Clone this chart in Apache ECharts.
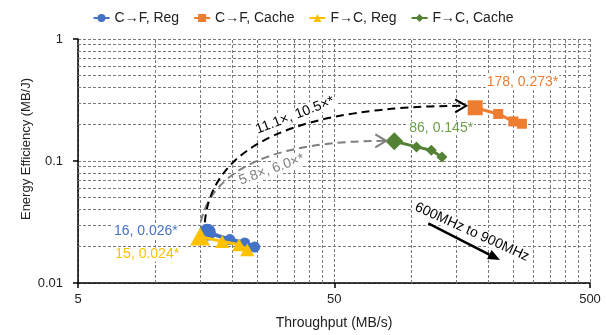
<!DOCTYPE html>
<html><head><meta charset="utf-8">
<script src="https://cdn.jsdelivr.net/npm/echarts@6/dist/echarts.min.js"></script>
<style>html,body{margin:0;padding:0;background:#fff}#c{width:606px;height:335px}</style>
</head><body><div id="c"></div>
<script>
// ---- data ----
const seriesNames = ['C\u2192F, Reg', 'C\u2192F, Cache', 'F\u2192C, Reg', 'F\u2192C, Cache'];
const cfRegX = [16, 19.6, 22.4, 24.5];
const cfRegY = [0.026, 0.0227, 0.0213, 0.0197];
const cfCacheX = [178, 219, 251, 271];
const cfCacheY = [0.273, 0.243, 0.211, 0.202];
const fcRegX = [15, 18.3, 21.3, 22.9];
const fcRegY = [0.024, 0.0219, 0.0206, 0.0187];
const fcCacheX = [86, 105, 120, 132];
const fcCacheY = [0.145, 0.1305, 0.1226, 0.108];
const pointLabels = ['16, 0.026*', '178, 0.273*', '15, 0.024*', '86, 0.145*'];
const xTicks = [5, 50, 500];
const yTicks = [0.01, 0.1, 1];
const xMinorGrid = [10, 15, 20, 25, 30, 35, 40, 45, 100, 150, 200, 250, 300, 350, 400, 450];
const yMinorGrid = [0.02, 0.03, 0.04, 0.05, 0.06, 0.07, 0.08, 0.09, 0.2, 0.3, 0.4, 0.5, 0.6, 0.7, 0.8, 0.9];
const speedupLabels = ['11.1\u00d7, 10.5\u00d7*', '5.8\u00d7, 6.0\u00d7*'];
const freqLabel = '600MHz to 900MHz';
const xTitle = 'Throughput (MB/s)';
const yTitle = 'Energy Efficiency (MB/J)';

// ---- styles ----
const FONT = '"Liberation Sans", Arial, sans-serif';
const gridLine = { color: '#7a7a7a', type: [3, 2], width: 1 };
const styles = [
  { color: '#4472C4', text: '#4472C4', symbol: 'circle', big: 17, small: 11, lw: 4,
    label: { position: 'left', distance: 20, offset: [0, -1] } },
  { color: '#ED7D31', text: '#ED7D31', symbol: 'rect', big: 15, small: 10, lw: 3,
    label: { position: 'right', distance: 3, offset: [0, -26] } },
  { color: '#FFC000', text: '#FFC000', symbol: 'triangle', big: [20, 18], small: [14, 13], lw: 3,
    label: { position: 'left', distance: 10, offset: [0, 18] } },
  { color: '#548235', text: '#6A9F46', symbol: 'diamond', big: [18, 18], small: [11, 11], lw: 3,
    label: { position: 'right', distance: 5, offset: [0, -13] } }
];
const xs = [cfRegX, cfCacheX, fcRegX, fcCacheX];
const ys = [cfRegY, cfCacheY, fcRegY, fcCacheY];

const series = seriesNames.map((name, si) => {
  const st = styles[si];
  return {
    name, type: 'line', z: 3 + si,
    symbol: st.symbol,
    color: st.color,
    itemStyle: { color: st.color },
    lineStyle: { color: st.color, width: st.lw },
    data: xs[si].map((x, i) => {
      const d = { value: [x, ys[si][i]], symbolSize: i === 0 ? st.big : st.small };
      if (i === 0) {
        d.label = Object.assign({
          show: true, formatter: pointLabels[si], color: st.text, fontSize: 14,
          fontFamily: FONT, backgroundColor: '#fff', padding: [0, 1]
        }, st.label);
      }
      return d;
    })
  };
});
// grid lines at minor positions, drawn through the axes' scales
series[0].markLine = {
  silent: true, symbol: 'none', z: 1, animation: false,
  label: { show: false },
  lineStyle: gridLine,
  data: xMinorGrid.map(v => ({ xAxis: v })).concat(yMinorGrid.map(v => ({ yAxis: v })))
};

const tickFmt = v => String(Number(Number(v).toPrecision(2)));
const axisCommon = {
  type: 'log', logBase: 10, interval: 1,
  axisLine: { lineStyle: { color: '#000', width: 1.5 } },
  axisTick: { show: true, length: 5, lineStyle: { color: '#000', width: 1.5 } },
  splitLine: { show: true, lineStyle: gridLine },
  minorTick: { show: false }, minorSplitLine: { show: false }
};

const chart = echarts.init(document.getElementById('c'), null, { renderer: 'canvas' });
chart.setOption({
  animation: false,
  backgroundColor: '#fff',
  textStyle: { fontFamily: FONT },
  grid: { left: 78, right: 16, top: 39, bottom: 52, containLabel: false },
  legend: {
    data: seriesNames, top: 6, left: 'center',
    itemWidth: 16, itemHeight: 10, itemGap: 14,
    textStyle: { fontSize: 14, color: '#222', fontFamily: FONT }
  },
  xAxis: Object.assign({}, axisCommon, {
    min: xTicks[0], max: xTicks[xTicks.length - 1],
    name: xTitle, nameLocation: 'middle', nameGap: 33, nameMoveOverlap: false,
    nameTextStyle: { fontSize: 14, color: '#222', fontFamily: FONT },
    axisLabel: { fontSize: 13, color: '#222', margin: 10, showMinLabel: true, showMaxLabel: true,
      fontFamily: FONT, formatter: tickFmt }
  }),
  yAxis: Object.assign({}, axisCommon, {
    min: yTicks[0], max: yTicks[yTicks.length - 1],
    name: yTitle, nameLocation: 'middle', nameGap: 45, nameMoveOverlap: false,
    nameTextStyle: { fontSize: 13, color: '#222', fontFamily: FONT, padding: [0, 0, 0, 24] },
    axisLabel: { fontSize: 13, color: '#222', margin: 15, showMinLabel: true, showMaxLabel: true,
      fontFamily: FONT, formatter: tickFmt }
  }),
  series
});

// ---- annotations anchored to the data points ----
const toPx = (x, y) => chart.convertToPixel({ gridIndex: 0 }, [x, y]);
const b0 = toPx(cfRegX[0], cfRegY[0]);
const o0 = toPx(cfCacheX[0], cfCacheY[0]);
const y0 = toPx(fcRegX[0], fcRegY[0]);
const g0 = toPx(fcCacheX[0], fcCacheY[0]);

function arc(p0, p2, cpdx, color) {
  return [
    { type: 'bezierCurve', z: 10, silent: true,
      shape: { x1: p0[0], y1: p0[1], x2: p2[0], y2: p2[1], cpx1: p0[0] + cpdx, cpy1: p2[1] },
      style: { stroke: color, lineWidth: 2, lineDash: [8, 5], fill: null } },
    { type: 'polyline', z: 10, silent: true,
      shape: { points: [[p2[0] - 11, p2[1] - 6.5], [p2[0], p2[1]], [p2[0] - 11, p2[1] + 6.5]] },
      style: { stroke: color, lineWidth: 2, fill: null } }
  ];
}
const blackStart = [b0[0] - 2.5, b0[1] - 10];
const blackEnd = [o0[0] - 9, o0[1] - 2];
const grayStart = [y0[0] + 0.7, y0[1] - 15];
const grayEnd = [g0[0] - 8, g0[1] - 0.5];

function rotText(txt, x, y, deg, color) {
  return { type: 'text', z: 11, silent: true, x, y, rotation: deg * Math.PI / 180,
    style: { text: txt, fill: color, font: '14px ' + FONT, align: 'center', verticalAlign: 'middle',
      backgroundColor: '#fff', padding: [0, 1] } };
}
const tip = [500, 260], st = [428.3, 223.3];
const dx = tip[0] - st[0], dy = tip[1] - st[1], L = Math.hypot(dx, dy);
const ux = dx / L, uy = dy / L;
const hb = [tip[0] - 12 * ux, tip[1] - 12 * uy];

chart.setOption({
  graphic: [].concat(
    arc(grayStart, grayEnd, 19, '#7f7f7f'),
    arc(blackStart, blackEnd, 10, '#000'),
    [
      rotText(speedupLabels[0], 295, 115.3, 21, '#000'),
      rotText(speedupLabels[1], 271.6, 169.5, 19.6, '#7f7f7f'),
      rotText(freqLabel, 472, 232, -24.4, '#000'),
      { type: 'line', z: 12, silent: true,
        shape: { x1: st[0], y1: st[1], x2: hb[0], y2: hb[1] },
        style: { stroke: '#000', lineWidth: 2.5 } },
      { type: 'polygon', z: 12, silent: true,
        shape: { points: [tip, [hb[0] - 5 * uy, hb[1] + 5 * ux], [hb[0] + 5 * uy, hb[1] - 5 * ux]] },
        style: { fill: '#000' } }
    ]
  )
});
</script>
</body></html>
